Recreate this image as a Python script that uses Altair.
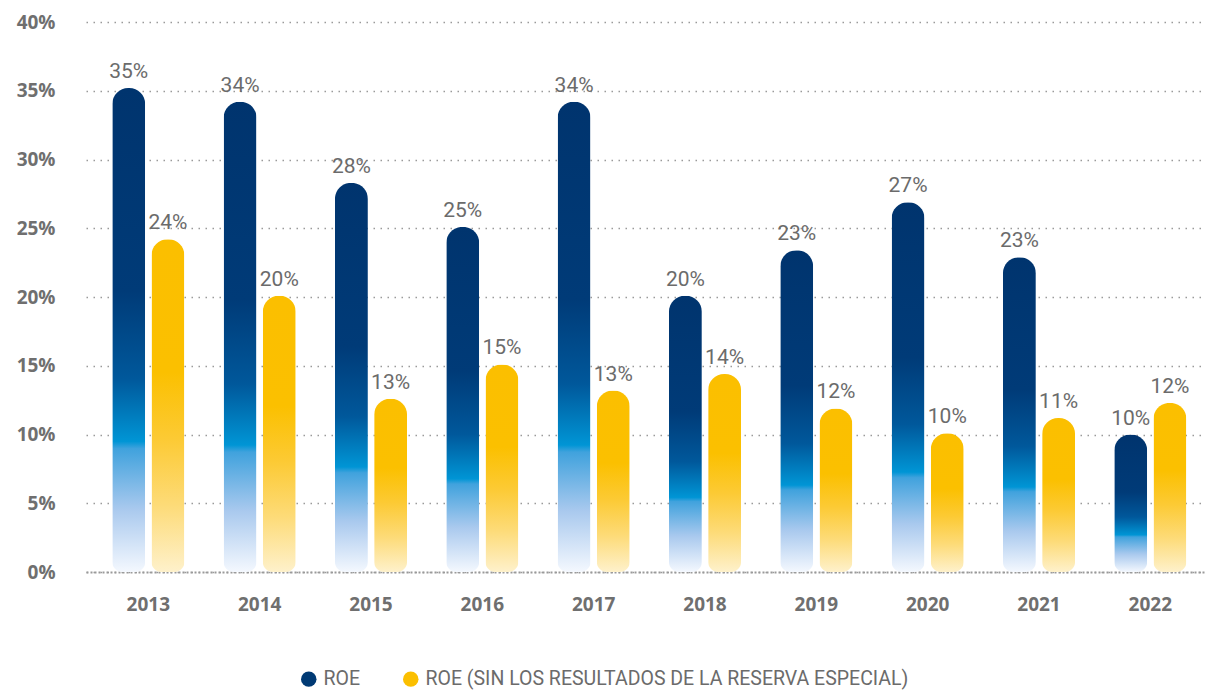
import altair as alt
import pandas as pd

years = ["2013", "2014", "2015", "2016", "2017", "2018", "2019", "2020", "2021", "2022"]
roe = [0.352, 0.342, 0.283, 0.251, 0.342, 0.201, 0.234, 0.269, 0.229, 0.100]
roe_sin = [0.242, 0.201, 0.126, 0.151, 0.132, 0.144, 0.119, 0.101, 0.112, 0.123]
labels_roe = ["35%", "34%", "28%", "25%", "34%", "20%", "23%", "27%", "23%", "10%"]
labels_sin = ["24%", "20%", "13%", "15%", "13%", "14%", "12%", "10%", "11%", "12%"]
series_names = ["ROE", "ROE (SIN LOS RESULTADOS DE LA RESERVA ESPECIAL)"]
y_ticks = [0, 0.05, 0.10, 0.15, 0.20, 0.25, 0.30, 0.35, 0.40]

rows = []
for i, yr in enumerate(years):
    rows.append({"year": yr, "series": series_names[0], "value": roe[i], "label": labels_roe[i]})
    rows.append({"year": yr, "series": series_names[1], "value": roe_sin[i], "label": labels_sin[i]})
df = pd.DataFrame(rows)

blue_grad = alt.LinearGradient(
    gradient="linear", x1=0, y1=0, x2=0, y2=1,
    stops=[
        alt.GradientStop(offset=0, color="#00346e"),
        alt.GradientStop(offset=0.42, color="#003b78"),
        alt.GradientStop(offset=0.60, color="#00589b"),
        alt.GradientStop(offset=0.73, color="#0095d5"),
        alt.GradientStop(offset=0.745, color="#40a2dd"),
        alt.GradientStop(offset=0.87, color="#a9c9ee"),
        alt.GradientStop(offset=1, color="#f4f8fe"),
    ],
)
yellow_grad = alt.LinearGradient(
    gradient="linear", x1=0, y1=0, x2=0, y2=1,
    stops=[
        alt.GradientStop(offset=0, color="#fbbf00"),
        alt.GradientStop(offset=0.40, color="#fbc000"),
        alt.GradientStop(offset=0.60, color="#fcca34"),
        alt.GradientStop(offset=0.80, color="#fddb78"),
        alt.GradientStop(offset=1, color="#fef1cb"),
    ],
)

x_enc = alt.X(
    "year:N", sort=years, title=None,
    scale=alt.Scale(paddingInner=0, paddingOuter=0.03, align=1),
    axis=alt.Axis(labelAngle=0, ticks=False, domain=True, domainDash=[2, 2],
                  domainColor="#9a9a9a", domainWidth=2, labelPadding=23,
                  labelFont="Open Sans", labelFontWeight="bold", labelFontSize=19,
                  labelColor="#6f6f6f", grid=False),
)
xoff_enc = alt.XOffset(
    "series:N", sort=series_names,
    scale=alt.Scale(domain=series_names, paddingInner=0.16, paddingOuter=0.5),
)
y_enc = alt.Y(
    "value:Q", title=None,
    scale=alt.Scale(domain=[0, 0.40], nice=False),
    axis=alt.Axis(values=y_ticks, format=".0%", ticks=False, domain=False,
                  labelPadding=31, labelFont="Open Sans", labelFontWeight="bold",
                  labelFontSize=19, labelColor="#6f6f6f",
                  grid=True, gridDash=[1.5, 5.5], gridColor="#9a9a9a", gridWidth=1.5),
)

base = alt.Chart(df)

bars_blue = base.transform_filter(alt.datum.series == series_names[0]).mark_bar(
    fill=blue_grad, cornerRadiusTopLeft=16, cornerRadiusTopRight=16,
    cornerRadiusBottomLeft=10, cornerRadiusBottomRight=10,
).encode(x=x_enc, xOffset=xoff_enc, y=y_enc)

bars_yellow = base.transform_filter(alt.datum.series == series_names[1]).mark_bar(
    fill=yellow_grad, cornerRadiusTopLeft=16, cornerRadiusTopRight=16,
    cornerRadiusBottomLeft=10, cornerRadiusBottomRight=10,
).encode(x=x_enc, xOffset=xoff_enc, y=y_enc)

texts = base.mark_text(
    font="Roboto", fontSize=21, color="#6b6b6b", baseline="alphabetic", dy=-10,
).encode(x=x_enc, xOffset=xoff_enc, y=y_enc, text="label:N")

legend_layer = base.mark_point(filled=True, opacity=0, size=1).encode(
    x=x_enc, xOffset=xoff_enc, y=y_enc,
    color=alt.Color(
        "series:N", sort=series_names, title=None,
        scale=alt.Scale(domain=series_names, range=["#003a74", "#fbbf00"]),
        legend=alt.Legend(
            orient="none", legendX=213, legendY=647, direction="horizontal",
            symbolType="circle", symbolSize=240, symbolOpacity=1,
            symbolStrokeWidth=0, labelFont="Roboto", labelFontSize=19.5,
            labelColor="#6b6b6b", labelOffset=5, columnPadding=40, padding=0,
            labelLimit=800,
        ),
    ),
)

chart = alt.layer(bars_blue, bars_yellow, texts, legend_layer).properties(
    width=1120, height=550,
    autosize=alt.AutoSizeParams(type="none"),
    padding={"left": 78, "top": 14, "right": 0, "bottom": 120},
).configure_view(stroke=None)

chart.save("out.html", embed_options={"renderer": "svg", "actions": False})
